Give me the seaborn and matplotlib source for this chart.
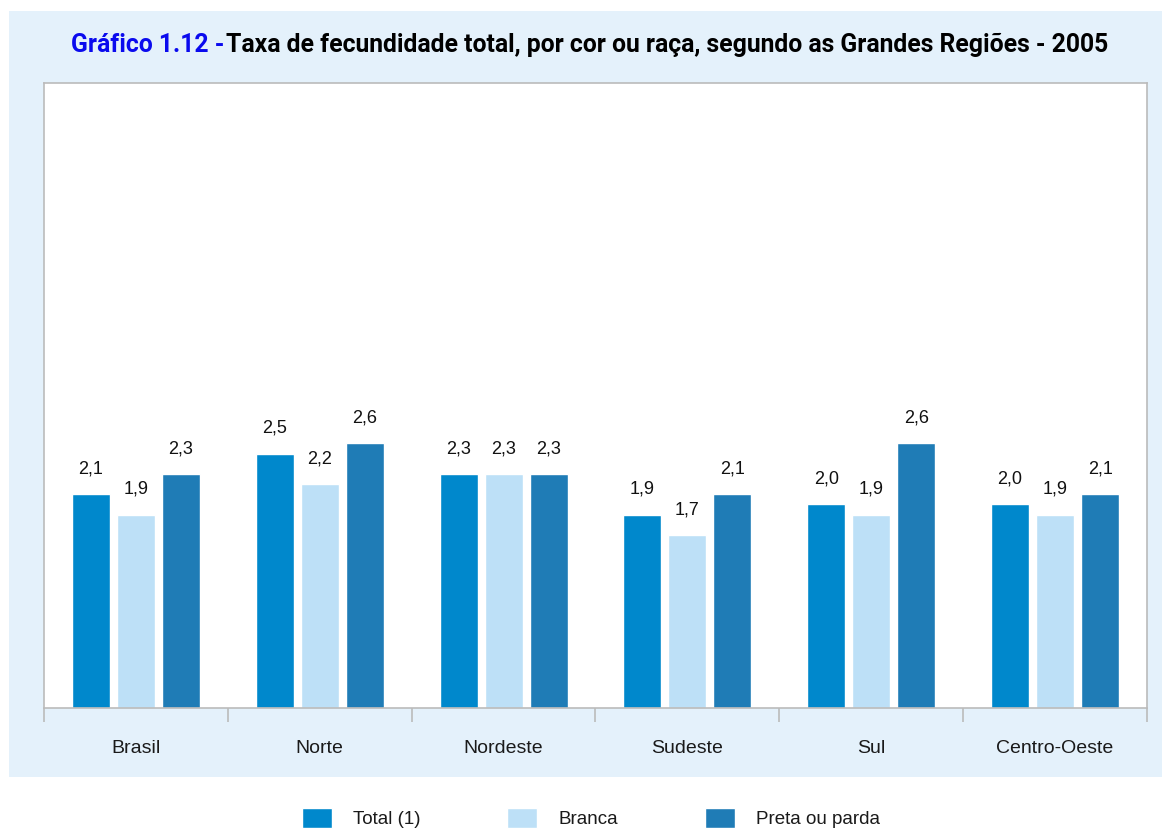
import pandas as pd
import numpy as np
import matplotlib.pyplot as plt
import seaborn as sns
from matplotlib.patches import Rectangle

# Dados do gráfico
regioes = ["Brasil", "Norte", "Nordeste", "Sudeste", "Sul", "Centro-Oeste"]
total = [2.1, 2.5, 2.3, 1.9, 2.0, 2.0]
branca = [1.9, 2.2, 2.3, 1.7, 1.9, 1.9]
preta_parda = [2.3, 2.6, 2.3, 2.1, 2.6, 2.1]
grupos = ["Total (1)", "Branca", "Preta ou parda"]
cores = ["#0088CC", "#BDE0F7", "#1F7CB6"]

df = pd.DataFrame({
    "Região": regioes * 3,
    "Grupo": [grupos[0]] * 6 + [grupos[1]] * 6 + [grupos[2]] * 6,
    "Taxa": total + branca + preta_parda,
})

sns.set_style("white")
plt.rcParams['font.family'] = ['Liberation Sans', 'DejaVu Sans']

W, H = 1162, 830
fig = plt.figure(figsize=(W / 100, H / 100), dpi=100)

# painel azul claro de fundo
fig.patches.append(Rectangle((9 / W, (H - 777) / H), (W - 9) / W, (777 - 11) / H,
                             transform=fig.transFigure, facecolor="#E4F1FB",
                             edgecolor="none", zorder=-5))

ax = fig.add_axes([44 / W, (H - 708) / H, 1103 / W, 625 / H])
ax.set_zorder(2)
ax.set_facecolor("white")

sns.barplot(data=df, x="Região", y="Taxa", hue="Grupo", palette=cores,
            width=0.735, gap=0.155, saturation=1, ax=ax, legend=True)

for cont in ax.containers:
    ax.bar_label(cont, labels=[f"{b.get_height():.1f}".replace(".", ",") for b in cont],
                 padding=12, fontsize=13, color="#111111")

ax.set_ylim(0, 6.14)
ax.set_xlim(-0.5, 5.5)
ax.set_yticks([])
ax.set_xlabel("")
ax.set_ylabel("")
for s in ax.spines.values():
    s.set_color("#BBBBBB")
    s.set_linewidth(1.2)
ax.set_xticks(np.arange(-0.5, 6, 1.0), minor=True)
ax.tick_params(axis="x", which="minor", length=10, color="#BBBBBB", width=1.2, direction="out", bottom=True)
ax.tick_params(axis="x", which="major", length=0, pad=23, labelsize=14, labelcolor="#1a1a1a")

# legenda abaixo do painel
handles, labels = ax.get_legend_handles_labels()
ax.get_legend().remove()
fig.legend(handles, labels, loc="center", bbox_to_anchor=(591 / W, (H - 818) / H), ncol=3,
           frameon=False, fontsize=13.5, handlelength=1.6, handleheight=1.3,
           handletextpad=1.15, columnspacing=4.6, labelcolor="#1a1a1a")

# título
fonte_titulo = ["Roboto", "DejaVu Sans"]
t1 = fig.text(71 / W, (H - 45) / H, "Gráfico 1.12 - ", color="#0A0AEE", fontsize=17.8,
              fontweight="bold", va="center", ha="left", family=fonte_titulo)
fig.canvas.draw()
bb = t1.get_window_extent()
fig.text((bb.x1 - 4) / W, (H - 45) / H, "Taxa de fecundidade total, por cor ou raça, segundo as Grandes Regiões - 2005",
         color="black", fontsize=17.8, fontweight="bold", va="center", ha="left",
         family=fonte_titulo)

fig.savefig("out.png", dpi=100)
